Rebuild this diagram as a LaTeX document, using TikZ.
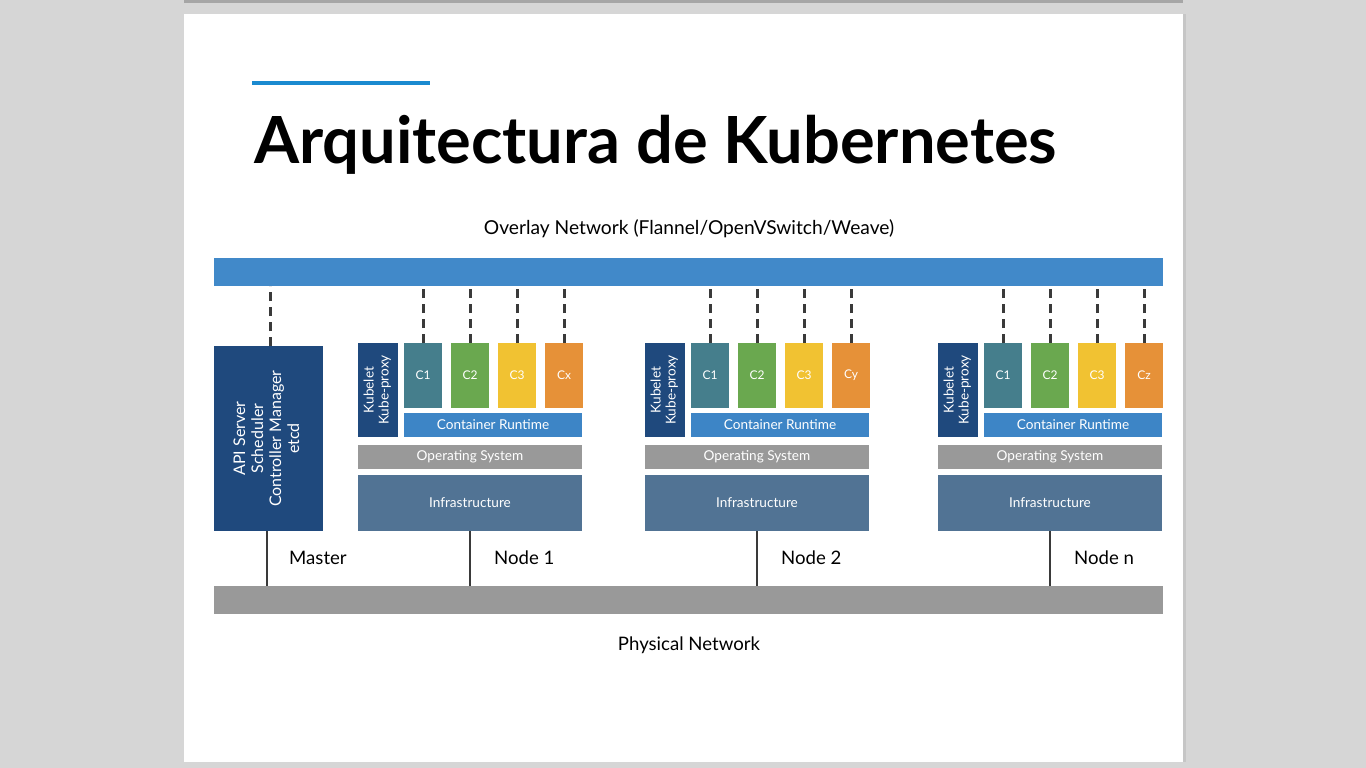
\documentclass[tikz,border=0pt]{standalone}
\usepackage{fontspec}
\setmainfont{Lato}
\usepackage{tikz}
\usetikzlibrary{positioning}
\definecolor{slidegray}{HTML}{D6D6D6}
\definecolor{rulblue}{HTML}{1A8AD0}
\definecolor{netblue}{HTML}{4189C9}
\definecolor{navy}{HTML}{1F497D}
\definecolor{cteal}{HTML}{457E8C}
\definecolor{cgreen}{HTML}{6AA84F}
\definecolor{cyellow}{HTML}{F1C232}
\definecolor{corange}{HTML}{E69138}
\definecolor{crblue}{HTML}{3D85C6}
\definecolor{osgray}{HTML}{999999}
\definecolor{infblue}{HTML}{517394}
\definecolor{wire}{HTML}{3A3A3A}
\tikzset{
    box/.style={inner sep=0pt, outer sep=0pt, text=white}, % every coloured block
    ctr/.style={box, minimum width=38, minimum height=65, font=\fontsize{12}{14}\selectfont}, % a container
    layer/.style={box, font=\fontsize{13.6}{15}\selectfont}, % runtime, OS, infrastructure
    netbar/.style={box, minimum width=949, minimum height=28}, % the two networks
    netlink/.style={draw=wire, line width=3, dash pattern=on 9 off 6}, % to the overlay network
    uplink/.style={draw=wire, line width=2}, % to the physical network
    label/.style={font=\fontsize{18.6}{20}\selectfont, text=black, inner sep=0pt}, % texts outside the blocks
}

\begin{document}
\begin{tikzpicture}[x=1pt, y=-1pt]
    % slide and its frame
    \fill[slidegray] (0,0) rectangle (1366,768);
    \fill[gray!70] (184,0) rectangle (1183,3);
    \fill[gray!45] (1183,14) rectangle (1186,762);
    \fill[white] (184,14) rectangle (1183,762);
    \useasboundingbox (0,0) rectangle (1366,768);

    % title
    \draw[rulblue, line width=3.5] (252,83) -- (430,83);
    \node[anchor=base west, inner sep=0pt, font=\fontsize{65}{68}\selectfont\bfseries]
        (title) at (254,163) {Arquitectura de Kubernetes};

    % networks
    \node[label, font=\fontsize{19.2}{21}\selectfont] (overlaylbl) at (689,229) {Overlay Network (Flannel/OpenVSwitch/Weave)};
    \node[netbar, fill=netblue] (overlay) at (688.5,272) {};
    \node[netbar, fill=osgray] (physical) at (688.5,600) {};
    \node[label] (physlbl) at (689,645) {Physical Network};

    % master
    \node[box, fill=navy, minimum width=109, minimum height=185] (master) at (268.5,438.5)
        {\rotatebox{90}{\fontsize{16}{18}\selectfont\begin{tabular}{c}API Server\\Scheduler\\Controller Manager\\etcd\end{tabular}}};
    \draw[netlink] ([xshift=1.5]master.north) -- ([xshift=1.5]master.north |- overlay.south);
    \draw[uplink] ([xshift=-1.5]master.south) -- ([xshift=-1.5]master.south |- physical.north);
    \node[label, anchor=west] (masterlbl) at (289,558) {Master};

    % worker nodes
    \foreach \nx/\cl/\lbl [count=\i] in {358/x/Node 1, 645/y/Node 2, 938/z/Node n} {
        \node[layer, fill=navy, minimum width=40, minimum height=94] (kub\i) at ({\nx+20},390)
            {\rotatebox{90}{\begin{tabular}{c}Kubelet\\Kube-proxy\end{tabular}}};
        \foreach \j/\ct/\col in {1/C1/cteal, 2/C2/cgreen, 3/C3/cyellow, 4/C\cl/corange} {
            \node[ctr, fill=\col] (c\i-\j) at ({\nx+65+(\j-1)*47},375.5) {\ct};
            \draw[netlink] (c\i-\j.north) -- (c\i-\j.north |- overlay.south);
        }
        \node[layer, fill=crblue, minimum width=178, minimum height=24] (cr\i) at ({\nx+135},425) {Container Runtime};
        \node[layer, fill=osgray, minimum width=224, minimum height=24] (os\i) at ({\nx+112},457) {Operating System};
        \node[layer, fill=infblue, minimum width=224, minimum height=56] (inf\i) at ({\nx+112},503) {Infrastructure};
        \draw[uplink] (inf\i.south) -- (inf\i.south |- physical.north);
        \node[label, anchor=west] (nodelbl\i) at ({\nx+136},558) {\lbl};
    }
\end{tikzpicture}
\end{document}
